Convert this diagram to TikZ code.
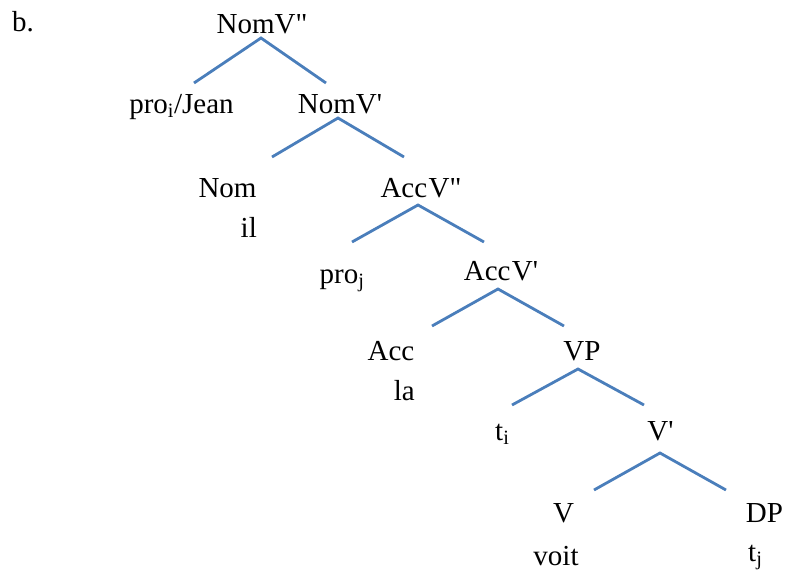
\documentclass[tikz,border=0pt]{standalone}
\usepackage{fontspec}
\setmainfont{Liberation Serif}
\definecolor{branch}{HTML}{4A7EBB}
\begin{document}
\begin{tikzpicture}[x=1pt,y=-1pt,
  lbl/.style={inner sep=0pt,anchor=base,font=\fontsize{29}{34}\selectfont},
  lblw/.style={lbl,anchor=base west},
  lble/.style={lbl,anchor=base east},
  branchline/.style={draw=branch,line width=2.8pt}]
\useasboundingbox (0,0) rectangle (785,573);
% labels
\node[lblw] (b) at (12,31) {b.};
\node[lbl] (nomvpp) at (262,33) {NomV\textquotedbl};
\node[lbl] (proi) at (181.5,113) {pro\textsubscript{i}/Jean};
\node[lbl] (nomvp) at (340,113) {NomV\textquotesingle};
\node[lbl] (nom) at (227.5,197) {Nom};
\node[lble] (il) at (257,237) {il};
\node[lbl] (accvpp) at (421,197) {Acc\kern1.5pt V\textquotedbl};
\node[lbl] (proj) at (342,283) {pro\textsubscript{j}};
\node[lbl] (accvp) at (501,280) {Acc\kern1.5pt V\textquotesingle};
\node[lbl] (acc) at (391,360) {Acc};
\node[lble] (la) at (415,400) {la};
\node[lbl] (vp) at (582,360) {VP};
\node[lblw] (ti) at (495,440) {t\textsubscript{i}};
\node[lbl] (vbar) at (660.5,440) {V\textquotesingle};
\node[lbl] (v) at (563.5,522) {V};
\node[lbl] (voit) at (556,565) {voit};
\node[lbl] (dp) at (764.5,522) {DP};
\node[lblw] (tj) at (748,561) {t\textsubscript{j}};
% branch points
\coordinate (a1) at (261,38);  \coordinate (l1) at (194,83);  \coordinate (r1) at (326,83);
\coordinate (a2) at (338,118); \coordinate (l2) at (272,157); \coordinate (r2) at (404,157);
\coordinate (a3) at (418,205); \coordinate (l3) at (352,242); \coordinate (r3) at (484,242);
\coordinate (a4) at (498,289); \coordinate (l4) at (432,326); \coordinate (r4) at (564,326);
\coordinate (a5) at (578,369); \coordinate (l5) at (512,405); \coordinate (r5) at (644,405);
\coordinate (a6) at (660,453); \coordinate (l6) at (594,490); \coordinate (r6) at (726,490);
\foreach \i in {1,...,6}{
  \draw[branchline] (l\i) -- (a\i) -- (r\i);
}
\end{tikzpicture}
\end{document}
